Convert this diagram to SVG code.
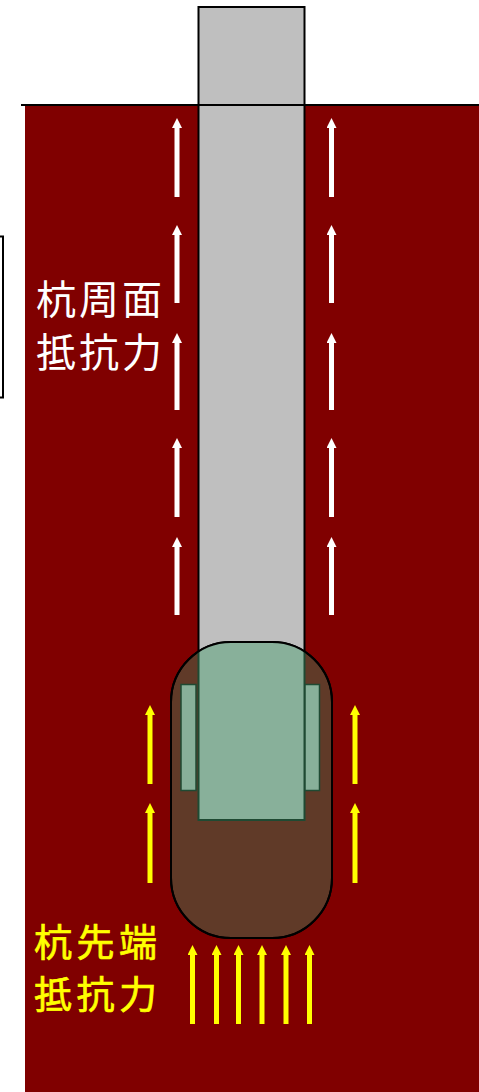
<svg xmlns="http://www.w3.org/2000/svg" width="479" height="1092" viewBox="0 0 479 1092">
  <style>
    .lbl { font-family: "Noto Sans CJK JP", "Noto Sans CJK SC", sans-serif; font-size: 40px; letter-spacing: 3px; }
    .lbl-tip { font-family: "Noto Sans CJK JP", "Noto Sans CJK SC", sans-serif; font-size: 38px; letter-spacing: 4.5px; fill: #FFFF00; stroke: #FFFF00; stroke-width: 0.7px; }
    .up-w { stroke: #FFFFFF; stroke-width: 5; marker-end: url(#headW); }
    .up-y { stroke: #FFFF00; stroke-width: 5; marker-end: url(#headY); }
  </style>
  <defs>
    <marker id="headW" viewBox="0 0 10 10" refX="0" refY="5" markerWidth="2" markerHeight="2" orient="auto" markerUnits="strokeWidth">
      <path d="M0,0 L10,5 L0,10 Z" fill="#FFFFFF"/>
    </marker>
    <marker id="headY" viewBox="0 0 10 10" refX="0" refY="5" markerWidth="2" markerHeight="2" orient="auto" markerUnits="strokeWidth">
      <path d="M0,0 L10,5 L0,10 Z" fill="#FFFF00"/>
    </marker>
    <clipPath id="bulbClip">
      <rect x="171" y="642" width="161" height="296" rx="60" ry="60"/>
    </clipPath>
  </defs>

  <!-- soil -->
  <rect id="soil" x="25" y="106" width="454" height="986" fill="#800000"/>

  <!-- legend frame at left edge -->
  <rect id="frame" x="-10" y="236.5" width="13" height="161" fill="#FFFFFF" stroke="#000000" stroke-width="2"/>

  <!-- pile shaft -->
  <g id="pile">
    <rect x="198.5" y="7" width="106" height="813" fill="#BFBFBF" stroke="#000000" stroke-width="2"/>
  </g>

  <!-- ground surface -->
  <line id="ground" x1="21" y1="105" x2="479" y2="105" stroke="#000000" stroke-width="2"/>

  <!-- enlarged toe bulb with embedded pile end and side plates -->
  <g id="bulb">
    <rect x="171" y="642" width="161" height="296" rx="60" ry="60" fill="#603A28" stroke="#000000" stroke-width="2"/>
    <g clip-path="url(#bulbClip)">
      <rect x="198.5" y="620" width="106" height="200" fill="#88B09A" stroke="#1F4A33" stroke-width="2"/>
    </g>
    <rect x="171" y="642" width="161" height="296" rx="60" ry="60" fill="none" stroke="#000000" stroke-width="2"/>
    <rect x="181" y="684.5" width="15" height="106" fill="#88B09A" stroke="#1F4A33" stroke-width="1.5"/>
    <rect x="305" y="684.5" width="14.5" height="106" fill="#88B09A" stroke="#1F4A33" stroke-width="1.5"/>
  </g>

  <!-- resistance arrows -->
  <g id="connectors">
    <!-- shaft friction, left -->
    <line class="up-w" x1="177" y1="197" x2="177" y2="128"/>
    <line class="up-w" x1="177" y1="303" x2="177" y2="235"/>
    <line class="up-w" x1="177" y1="410" x2="177" y2="343"/>
    <line class="up-w" x1="177" y1="517" x2="177" y2="448"/>
    <line class="up-w" x1="177" y1="615" x2="177" y2="547"/>
    <!-- shaft friction, right -->
    <line class="up-w" x1="331.5" y1="197" x2="331.5" y2="128"/>
    <line class="up-w" x1="331.5" y1="303" x2="331.5" y2="235"/>
    <line class="up-w" x1="331.5" y1="410" x2="331.5" y2="343"/>
    <line class="up-w" x1="331.5" y1="517" x2="331.5" y2="448"/>
    <line class="up-w" x1="331.5" y1="615" x2="331.5" y2="547"/>
    <!-- bulb side -->
    <line class="up-y" x1="150" y1="784" x2="150" y2="715"/>
    <line class="up-y" x1="150" y1="883" x2="150" y2="813"/>
    <line class="up-y" x1="355" y1="784" x2="355" y2="715"/>
    <line class="up-y" x1="355" y1="883" x2="355" y2="813"/>
    <!-- end bearing -->
    <line class="up-y" x1="192.5" y1="1024" x2="192.5" y2="955"/>
    <line class="up-y" x1="216.5" y1="1024" x2="216.5" y2="955"/>
    <line class="up-y" x1="238.5" y1="1024" x2="238.5" y2="955"/>
    <line class="up-y" x1="262" y1="1024" x2="262" y2="955"/>
    <line class="up-y" x1="286" y1="1024" x2="286" y2="955"/>
    <line class="up-y" x1="309.5" y1="1024" x2="309.5" y2="955"/>
  </g>

  <!-- labels -->
  <g id="label-shaft">
    <text class="lbl" x="36" y="314" fill="#FFFFFF">杭周面</text>
    <text class="lbl" x="36" y="367" fill="#FFFFFF">抵抗力</text>
  </g>
  <g id="label-tip">
    <text class="lbl-tip" x="34" y="956">杭先端</text>
    <text class="lbl-tip" x="34" y="1008">抵抗力</text>
  </g>
</svg>
